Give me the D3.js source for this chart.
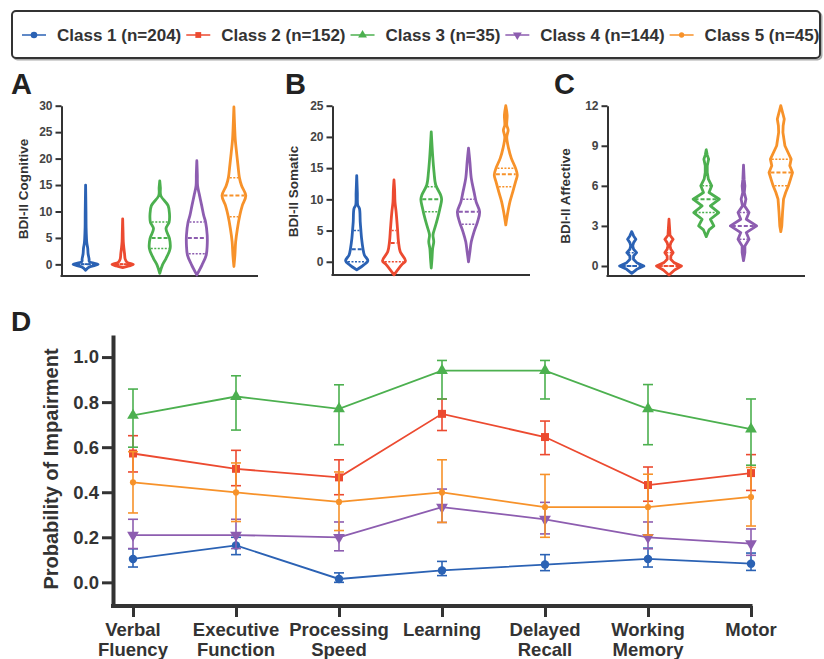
<!DOCTYPE html>
<html>
<head>
<meta charset="utf-8">
<script src="https://cdn.jsdelivr.net/npm/d3@7/dist/d3.min.js"></script>
<style>
  body { margin: 0; background: #fff; }
  text { font-family: "Liberation Sans", Arial, sans-serif; font-weight: bold; }
</style>
</head>
<body>
<svg id="svg" width="824" height="659"></svg>
<script>
// ---- data ----
const classNames = ["Class 1 (n=204)", "Class 2 (n=152)", "Class 3 (n=35)", "Class 4 (n=144)", "Class 5 (n=45)"];
const classColors = ["#2b62b4", "#ec4a30", "#4cb04f", "#8d5db0", "#f7922a"];

// violin outlines: [score, relative density]
const cognitiveDensity = [
  [[-1.1,0],[-0.5,0.3],[0,1],[0.5,0.3],[1,0.28],[2,0.2],[3,0.17],[4,0.1],[5,0.07],[7,0.04],[10,0.03],[15,0]],
  [[-0.6,0],[-0.3,0.5],[0,0.85],[0.4,0.35],[1,0.2],[2,0.15],[3,0.1],[4.25,0.05],[6,0.03],[8.6,0]],
  [[-1.7,0],[-0.1,0.22],[1.1,0.5],[3,0.83],[4.9,0.78],[6.75,0.5],[8,0.75],[9.5,0.78],[11.1,0.67],[13,0.08],[14.5,0.05],[15.8,0]],
  [[-2,0],[-0.1,0.42],[1.75,0.75],[3.6,0.83],[5.5,0.83],[8,0.7],[9.25,0.55],[11.1,0.39],[13,0.22],[14.9,0.06],[17,0.04],[19.6,0]],
  [[-0.4,0],[1.75,0.08],[4.25,0.14],[6.75,0.28],[9.25,0.47],[11.1,0.67],[13,0.95],[14.9,0.61],[16.4,0.44],[18.6,0.33],[21,0.22],[23.6,0.11],[26,0.06],[29.75,0]]
];
const cognitiveQuartiles = [[0,0,0],[0,0,0],[3,5,8],[2,5,8],[9,13,16.4]];

const somaticDensity = [
  [[-1.3,0],[-0.5,0.56],[0.16,0.89],[1.1,0.61],[2.1,0.5],[3.7,0.39],[5.1,0.33],[6.4,0.28],[8.5,0.22],[9.1,0.08],[11,0.05],[13.8,0]],
  [[-2.1,0],[-0.5,0.61],[0.16,0.92],[1.6,0.5],[3.2,0.36],[5.3,0.28],[8,0.17],[9.6,0.08],[11.5,0.05],[13.1,0]],
  [[-1,0],[0.5,0.06],[2.1,0.11],[3.2,0.2],[4.3,0.14],[5.5,0.3],[6.9,0.5],[8.5,0.69],[10,0.83],[10.7,0.75],[12.3,0.36],[14.4,0.22],[17.1,0.11],[20.8,0]],
  [[0,0],[1.6,0.11],[3.2,0.22],[4.8,0.44],[6.4,0.72],[8,0.89],[9.6,0.61],[11.2,0.44],[13.4,0.22],[16,0.11],[18.2,0]],
  [[5.9,0],[8,0.17],[9.6,0.33],[11.2,0.56],[12.8,0.78],[13.9,0.92],[15,0.78],[16.6,0.44],[18.2,0.22],[20,0.08],[21.1,0.19],[21.9,0.08],[23.5,0.11],[25,0]]
];
const somaticQuartiles = [[0,2,5],[0,3,5],[8,10,12],[6,8,10],[12,14,15]];

const affectiveDensity = [
  [[-0.55,0],[-0.25,0.4],[0,0.97],[0.25,0.4],[0.5,0.14],[0.75,0.15],[1,0.39],[1.25,0.15],[1.5,0.08],[1.75,0.15],[2,0.33],[2.25,0.15],[2.57,0]],
  [[-0.67,0],[-0.3,0.45],[0,1],[0.25,0.4],[0.5,0.14],[0.75,0.15],[1,0.33],[1.25,0.15],[1.5,0.08],[1.75,0.15],[2,0.33],[2.3,0.08],[2.8,0.05],[3.5,0]],
  [[2.2,0],[2.7,0.22],[3,0.61],[3.5,0.33],[4,1],[4.5,0.33],[5,1.05],[5.5,0.22],[6,0.44],[6.5,0.17],[7,0.08],[7.5,0.08],[8,0.19],[8.3,0.08],[8.7,0]],
  [[0.4,0],[1,0.11],[1.5,0.11],[2,0.44],[2.5,0.22],[3,1.05],[3.5,0.22],[4,0.44],[4.5,0.08],[5,0.19],[5.5,0.06],[6,0.11],[6.5,0.05],[7.55,0]],
  [[2.57,0],[3,0.08],[4,0.14],[5,0.22],[5.5,0.39],[6,0.61],[6.5,0.78],[7,0.94],[7.5,0.72],[8,0.83],[9,0.33],[10,0.17],[10.5,0.19],[11,0.28],[11.5,0.14],[12,0]]
];
const affectiveQuartiles = [[0,0,1],[0,0,1],[4,5,6],[2,3,4],[6,7,8]];

// panel D
const domains = ["Verbal Fluency", "Executive Function", "Processing Speed", "Learning", "Delayed Recall", "Working Memory", "Motor"];
const probMean = [
  [0.104, 0.164, 0.015, 0.053, 0.079, 0.104, 0.083],
  [0.572, 0.504, 0.466, 0.748, 0.645, 0.432, 0.485],
  [0.741, 0.825, 0.770, 0.940, 0.940, 0.770, 0.680],
  [0.210, 0.210, 0.200, 0.334, 0.280, 0.200, 0.172],
  [0.444, 0.399, 0.357, 0.399, 0.334, 0.334, 0.379]
];
const probLower = [
  [0.068, 0.123, 0.000, 0.030, 0.052, 0.068, 0.053],
  [0.490, 0.429, 0.389, 0.674, 0.567, 0.360, 0.408],
  [0.600, 0.676, 0.611, 0.814, 0.814, 0.611, 0.520],
  [0.150, 0.150, 0.140, 0.266, 0.215, 0.149, 0.120],
  [0.308, 0.270, 0.230, 0.266, 0.200, 0.210, 0.250]
];
const probUpper = [
  [0.149, 0.200, 0.042, 0.093, 0.123, 0.152, 0.130],
  [0.651, 0.586, 0.544, 0.814, 0.716, 0.512, 0.567],
  [0.858, 0.917, 0.877, 0.985, 0.985, 0.878, 0.814],
  [0.280, 0.280, 0.268, 0.414, 0.355, 0.268, 0.237],
  [0.580, 0.530, 0.490, 0.544, 0.479, 0.480, 0.510]
];

const svg = d3.select("#svg");
const ink = "#333";

// ---- legend ----
const symbols = [d3.symbolCircle, d3.symbolSquare, d3.symbolTriangle, d3.symbolTriangle, d3.symbolCircle];

svg.append("rect").attr("x", 13.5).attr("y", 12.5).attr("width", 808).attr("height", 47)
  .attr("rx", 4).attr("fill", "none").attr("stroke", "#aaa").attr("stroke-width", 2);
svg.append("rect").attr("x", 12).attr("y", 11).attr("width", 808).attr("height", 47)
  .attr("rx", 4).attr("fill", "#fff").attr("stroke", ink).attr("stroke-width", 2);

let lx = 22;
classNames.forEach((name, i) => {
  const g = svg.append("g");
  g.append("line").attr("x1", lx).attr("x2", lx + 24).attr("y1", 35).attr("y2", 35)
    .attr("stroke", classColors[i]).attr("stroke-width", 1.5);
  g.append("path")
    .attr("d", d3.symbol().type(symbols[i]).size(i === 4 ? 22 : 34)())
    .attr("transform", `translate(${lx + 12},35)` + (i === 3 ? " rotate(180)" : ""))
    .attr("fill", classColors[i]);
  const t = g.append("text").attr("x", lx + 35).attr("y", 35).attr("dy", "0.35em")
    .attr("font-size", 17).attr("fill", ink).text(name);
  lx += 35 + t.node().getComputedTextLength() + 5;
});

// ---- violin panels ----
const violinW = d3.scaleLinear().domain([0, 1]).range([0, 12.5]);

function profileWidth(profile, v) {
  for (let k = 1; k < profile.length; k++) {
    const a = profile[k - 1], b = profile[k];
    if (v >= a[0] && v <= b[0]) return a[1] + (b[1] - a[1]) * (v - a[0]) / (b[0] - a[0]);
  }
  return 0;
}

function violinPanel(opt) {
  const g = svg.append("g");
  const y = d3.scaleLinear().domain(opt.yDomain).range(opt.yRange);
  const x = d3.scalePoint().domain(d3.range(5)).range([opt.x0, opt.x1]).padding(0.65);

  g.append("text").attr("x", opt.letterX).attr("y", 94).attr("font-size", 29).attr("fill", "#222").text(opt.letter);

  const ax = g.append("g").attr("transform", `translate(${opt.x0},0)`)
    .call(d3.axisLeft(y).tickValues(opt.ticks).tickSize(6).tickSizeOuter(0).tickPadding(3));
  ax.select(".domain").attr("stroke", ink).attr("stroke-width", 2);
  ax.selectAll(".tick line").attr("stroke", ink).attr("stroke-width", 2);
  ax.selectAll(".tick text").attr("font-size", 12).attr("fill", "#444")
    .style("font-family", "'Liberation Sans', Arial, sans-serif").style("font-weight", "bold");

  g.append("line").attr("x1", opt.x0 - 1).attr("x2", opt.x1).attr("y1", opt.yRange[0]).attr("y2", opt.yRange[0])
    .attr("stroke", ink).attr("stroke-width", 2);

  g.append("text").attr("transform", `translate(${opt.labelX},${opt.labelY}) rotate(-90)`)
    .attr("text-anchor", "middle").attr("font-size", 13.5).attr("fill", ink).text(opt.label);

  opt.density.forEach((prof, i) => {
    const cx = x(i);
    const area = d3.area().curve(opt.curve)
      .y(d => y(d[0])).x0(d => cx - violinW(d[1])).x1(d => cx + violinW(d[1]));
    g.append("path").attr("d", area(prof)).attr("fill", "#fff")
      .attr("stroke", classColors[i]).attr("stroke-width", 2.8).attr("stroke-linejoin", "round");
    opt.quartiles[i].forEach((q, j) => {
      const hw = violinW(profileWidth(prof, q)) - 1.4;
      if (hw <= 1) return;
      g.append("line").attr("x1", cx - hw).attr("x2", cx + hw).attr("y1", y(q)).attr("y2", y(q))
        .attr("stroke", classColors[i])
        .attr("stroke-width", j === 1 ? 2 : 1.5)
        .attr("stroke-dasharray", j === 1 ? "4,2" : "2,1.5");
    });
  });
}

const smooth = d3.curveCatmullRom.alpha(0.5);
violinPanel({ letter: "A", letterX: 11, label: "BDI-II Cognitive", labelX: 27.5, labelY: 189,
  x0: 61.5, x1: 258, yDomain: [-2.2, 30], yRange: [276, 105.7], ticks: [0, 5, 10, 15, 20, 25, 30],
  density: cognitiveDensity, quartiles: cognitiveQuartiles, curve: smooth });
violinPanel({ letter: "B", letterX: 285, label: "BDI-II Somatic", labelX: 297.5, labelY: 191.5,
  x0: 332.5, x1: 530, yDomain: [-2.12, 25], yRange: [275, 105.7], ticks: [0, 5, 10, 15, 20, 25],
  density: somaticDensity, quartiles: somaticQuartiles, curve: smooth });
violinPanel({ letter: "C", letterX: 554, label: "BDI-II Affective", labelX: 570, labelY: 196,
  x0: 607.5, x1: 805, yDomain: [-0.75, 12], yRange: [276, 105.7], ticks: [0, 3, 6, 9, 12],
  density: affectiveDensity, quartiles: affectiveQuartiles, curve: d3.curveLinear });

// ---- panel D ----
const gD = svg.append("g");
const xD = d3.scalePoint().domain(domains).range([133, 751]);
const yD = d3.scaleLinear().domain([-0.105, 1.098]).range([606, 335]);

gD.append("text").attr("x", 11).attr("y", 331).attr("font-size", 28).attr("fill", "#222").text("D");

const axY = gD.append("g").attr("transform", "translate(113,0)")
  .call(d3.axisLeft(yD).tickValues([0, 0.2, 0.4, 0.6, 0.8, 1.0]).tickFormat(d3.format(".1f"))
    .tickSize(11).tickSizeOuter(0).tickPadding(3));
axY.select(".domain").attr("stroke", ink).attr("stroke-width", 4);
axY.selectAll(".tick line").attr("stroke", ink).attr("stroke-width", 3);
axY.selectAll(".tick text").attr("font-size", 18.5).attr("fill", ink)
  .style("font-family", "'Liberation Sans', Arial, sans-serif").style("font-weight", "bold");

const axX = gD.append("g").attr("transform", "translate(0,606)")
  .call(d3.axisBottom(xD).tickSize(11).tickSizeOuter(0).tickFormat(""));
axX.select(".domain").remove();
axX.selectAll(".tick line").attr("stroke", ink).attr("stroke-width", 3);
gD.append("line").attr("x1", 111).attr("x2", xD(domains[domains.length - 1]) + 1.5)
  .attr("y1", 606).attr("y2", 606).attr("stroke", ink).attr("stroke-width", 4);

domains.forEach(d => {
  const t = gD.append("text").attr("x", xD(d)).attr("y", 636).attr("text-anchor", "middle")
    .attr("font-size", 18.5).attr("fill", ink);
  d.split(" ").forEach((w, k) => {
    t.append("tspan").attr("x", xD(d)).attr("dy", k === 0 ? 0 : 19.5).text(w);
  });
});

gD.append("text").attr("transform", "translate(58,469) rotate(-90)")
  .attr("text-anchor", "middle").attr("font-size", 20).attr("fill", ink).text("Probability of Impairment");

const lineD = d3.line().x((d, j) => xD(domains[j])).y(d => yD(d));
const markerSize = [56, 64, 60, 60, 30];

probMean.forEach((series, i) => {
  const c = classColors[i];
  const g = gD.append("g");
  series.forEach((m, j) => {
    const cx = xD(domains[j]);
    g.append("line").attr("x1", cx).attr("x2", cx)
      .attr("y1", yD(probLower[i][j])).attr("y2", yD(probUpper[i][j]))
      .attr("stroke", c).attr("stroke-width", 1.6);
    [probLower[i][j], probUpper[i][j]].forEach(v => {
      g.append("line").attr("x1", cx - 5).attr("x2", cx + 5).attr("y1", yD(v)).attr("y2", yD(v))
        .attr("stroke", c).attr("stroke-width", 1.6);
    });
  });
  g.append("path").attr("d", lineD(series)).attr("fill", "none").attr("stroke", c).attr("stroke-width", 1.8);
  series.forEach((m, j) => {
    g.append("path")
      .attr("d", d3.symbol().type(symbols[i]).size(markerSize[i])())
      .attr("transform", `translate(${xD(domains[j])},${yD(m)})` + (i === 3 ? " rotate(180)" : ""))
      .attr("fill", c);
  });
});
</script>
</body>
</html>
